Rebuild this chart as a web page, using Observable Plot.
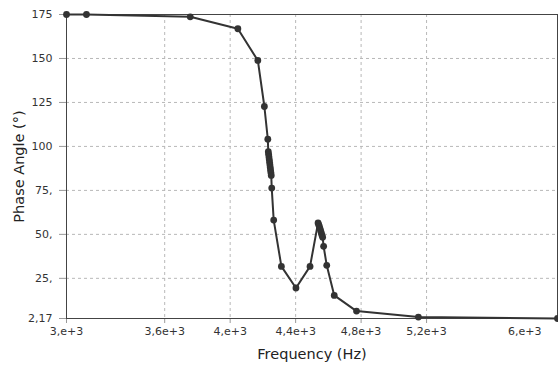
<!DOCTYPE html>
<html>
<head>
<meta charset="utf-8">
<script src="https://cdn.jsdelivr.net/npm/d3@7"></script>
<script src="https://cdn.jsdelivr.net/npm/@observablehq/plot@0.6"></script>
<style>
  html, body { margin: 0; padding: 0; background: #fff; }
  svg { display: block; }
</style>
</head>
<body>
<div id="chart"></div>
<script>
// Frequency (Hz)
const frequency = [3000, 3122, 3756, 4047, 4169, 4209, 4230,
  4233, 4235, 4237, 4239, 4241, 4243, 4245, 4247, 4249, 4251,
  4254, 4266, 4313, 4402, 4488,
  4537, 4541, 4545, 4549, 4553, 4557, 4561, 4565,
  4571, 4590, 4636, 4772, 5150, 6000];
// Phase Angle (°)
const phase = [175, 175, 173.7, 166.9, 148.9, 122.7, 104.1,
  97, 95.5, 94, 92.5, 91, 89.5, 88, 86.5, 85, 83.5,
  76.3, 58.1, 31.8, 19.5, 31.8,
  56.5, 55.5, 54.5, 53.3, 52, 50.8, 49.5, 48.3,
  43.2, 32.4, 15.3, 6.4, 3.0, 2.17];

const xTicks = [3000, 3600, 4000, 4400, 4800, 5200];
const xTickLabels = ["3,e+3", "3,6e+3", "4,e+3", "4,4e+3", "4,8e+3", "5,2e+3"];
const xExtraTick = [5800];
const xExtraLabel = ["6,e+3"];
const yTicks = [2.17, 25, 50, 75, 100, 125, 150, 175];
const yTickLabels = ["2,17", "25,", "50,", "75,", "100", "125", "150", "175"];
const xTitle = "Frequency (Hz)";
const yTitle = "Phase Angle (°)";

const data = frequency.map((f, i) => ({f, p: phase[i]}));
const xFmt = d => xTickLabels[xTicks.indexOf(d)];
const yFmt = d => yTickLabels[yTicks.indexOf(d)];

const chart = Plot.plot({
  width: 558,
  height: 367,
  marginTop: 14,
  marginBottom: 49,
  marginLeft: 66,
  marginRight: 1,
  style: {fontFamily: "'DejaVu Sans', sans-serif", fontSize: "11px", color: "#333", background: "#fff"},
  x: {domain: [3000, 6000]},
  y: {domain: [2.17, 175]},
  marks: [
    Plot.gridX(xTicks.slice(1), {stroke: "#b8b8b8", strokeOpacity: 1, strokeDasharray: "3,3"}),
    Plot.gridY(yTicks.slice(1, -1), {stroke: "#b8b8b8", strokeOpacity: 1, strokeDasharray: "3,3"}),
    Plot.axisX(xTicks, {tickFormat: xFmt, tickSize: 5, tickPadding: 4, stroke: "#999", fill: "#333", label: null}),
    Plot.axisX(xExtraTick, {tickFormat: () => xExtraLabel[0], tickSize: 0, tickPadding: 9, fill: "#333", label: null}),
    Plot.axisY(yTicks, {tickFormat: yFmt, tickSize: 7, tickPadding: 7, stroke: "#999", fill: "#333", label: null}),
    Plot.frame({stroke: "#444"}),
    Plot.line(data, {x: "f", y: "p", stroke: "#333", strokeWidth: 2}),
    Plot.dot(data, {x: "f", y: "p", r: 3.4, fill: "#333", stroke: "none"}),
    Plot.text([xTitle], {frameAnchor: "bottom", dy: 40, text: d => d, fontSize: 14.5, fill: "#222"}),
    Plot.text([yTitle], {frameAnchor: "left", dx: -47, rotate: -90, textAnchor: "middle", text: d => d, fontSize: 14.5, fill: "#222"})
  ]
});
document.getElementById("chart").appendChild(chart);
</script>
</body>
</html>
